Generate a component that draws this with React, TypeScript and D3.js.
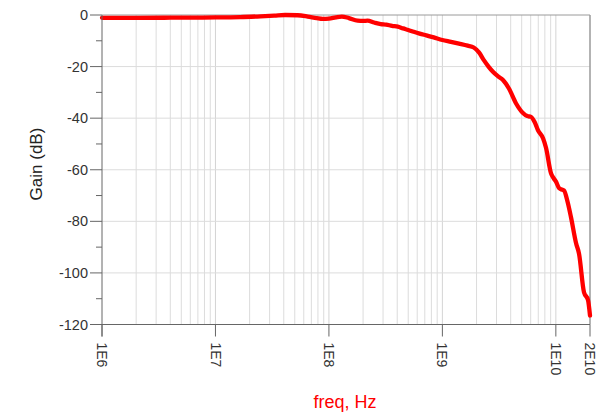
import React from "react";
import * as d3 from "d3";

const freqs = [1e6, 2e6, 4e6, 6.2e6, 1e7, 1.65e7, 2.5e7, 3.3e7, 4.1e7, 5.3e7, 6.5e7, 7.8e7, 8.8e7, 1.0e8, 1.15e8, 1.3e8, 1.5e8, 1.79e8, 2.0e8, 2.19e8, 2.5e8, 2.86e8, 3.2e8, 3.6e8, 4.04e8, 4.5e8, 5.0e8, 5.59e8, 6.3e8, 7.2e8, 8.39e8, 1.0e9, 1.19e9, 1.4e9, 1.67e9, 1.89e9, 2.1e9, 2.32e9, 2.55e9, 2.79e9, 3.1e9, 3.42e9, 3.86e9, 4.45e9, 5.13e9, 5.6e9, 6.04e9, 6.5e9, 6.96e9, 7.71e9, 8.19e9, 9.07e9, 9.6e9, 1.0e10, 1.07e10, 1.13e10, 1.18e10, 1.27e10, 1.36e10, 1.51e10, 1.6e10, 1.77e10, 1.92e10, 2.0e10];
const gains = [-1.1, -1.1, -1.05, -1.0, -0.95, -0.8, -0.5, -0.25, 0, -0.1, -0.6, -1.2, -1.5, -1.4, -0.9, -0.6, -1.2, -2.2, -2.3, -2.2, -2.9, -3.5, -3.7, -4.2, -4.5, -5.2, -5.8, -6.5, -7.2, -7.9, -8.7, -9.7, -10.4, -11.1, -11.9, -12.6, -14.5, -17.5, -20, -22, -23.8, -25.2, -28.5, -34.2, -38, -39.2, -39.5, -41.5, -44.7, -47.8, -51.5, -61.4, -63.4, -64.5, -67.2, -67.7, -68, -72.5, -78.4, -88.6, -92.5, -107.5, -110.5, -116.5];

const yTicks = [0, -20, -40, -60, -80, -100, -120];
const yMinor = [-10, -30, -50, -70, -90, -110];
const xTicks = [1e6, 1e7, 1e8, 1e9, 1e10, 2e10];
const xTickLabels = ["1E6", "1E7", "1E8", "1E9", "1E10", "2E10"];

export default function App() {
  const W = 605, H = 414;
  const left = 102, right = 590, top = 15, bottom = 324.5;
  const x = d3.scaleLog().domain([1e6, 2e10]).range([left, right]);
  const y = d3.scaleLinear().domain([-120, 0]).range([bottom, top]);
  const minorX: number[] = [];
  for (let e = 6; e <= 10; e++) {
    for (let m = 2; m <= 9; m++) {
      const v = m * Math.pow(10, e);
      if (v < 2e10) minorX.push(v);
    }
  }
  const line = d3.line<number>().x((_, i) => x(freqs[i])).y((g) => y(g)).curve(d3.curveMonotoneX);
  const font = "'Liberation Sans', Arial, sans-serif";
  return (
    <svg width={W} height={H} style={{ position: "absolute", left: 0, top: 0 }} fontFamily={font}>
      <rect width={W} height={H} fill="#fff" />
      {minorX.map((v, i) => (
        <line key={"mx" + i} x1={x(v)} x2={x(v)} y1={top} y2={bottom} stroke="#dcdcdc" strokeWidth={1} />
      ))}
      {xTicks.slice(1, 5).map((v, i) => (
        <line key={"gx" + i} x1={x(v)} x2={x(v)} y1={top} y2={bottom} stroke="#d4d4d4" strokeWidth={1} />
      ))}
      {yTicks.slice(1, 6).map((v, i) => (
        <line key={"gy" + i} x1={left} x2={right} y1={y(v)} y2={y(v)} stroke="#dcdcdc" strokeWidth={1} />
      ))}
      <line x1={left} x2={right} y1={top} y2={top} stroke="#9a9a9a" strokeWidth={1} />
      <line x1={right} x2={right} y1={top} y2={bottom} stroke="#9a9a9a" strokeWidth={1.5} />
      <path d={line(gains) || ""} fill="none" stroke="#ff0000" strokeWidth={4.3} strokeLinejoin="round" strokeLinecap="round" />
      <line x1={left} x2={left} y1={top} y2={bottom + 12} stroke="#666" strokeWidth={1} />
      <line x1={left - 12} x2={right} y1={bottom} y2={bottom} stroke="#666" strokeWidth={1} />
      {yTicks.map((v, i) => (
        <g key={"yt" + i}>
          <line x1={left - 12} x2={left} y1={y(v)} y2={y(v)} stroke="#666" />
          <text x={88} y={y(v)} dy="0.35em" textAnchor="end" fontSize={14.5} fill="#333">{v}</text>
        </g>
      ))}
      {yMinor.map((v, i) => (
        <line key={"ym" + i} x1={left - 6} x2={left} y1={y(v)} y2={y(v)} stroke="#666" />
      ))}
      {xTicks.map((v, i) => (
        <g key={"xt" + i}>
          <line x1={x(v)} x2={x(v)} y1={bottom} y2={bottom + 12} stroke="#666" />
          <text transform={`translate(${x(v)},${bottom + 18}) rotate(90)`} dy="0.35em" textAnchor="start" fontSize={14} fill="#333">{xTickLabels[i]}</text>
        </g>
      ))}
      <text transform={`translate(36,164) rotate(-90)`} dy="0.35em" textAnchor="middle" fontSize={17} fill="#222">Gain (dB)</text>
      <text x={345} y={408} textAnchor="middle" fontSize={18} fill="#ff0000">freq, Hz</text>
    </svg>
  );
}
